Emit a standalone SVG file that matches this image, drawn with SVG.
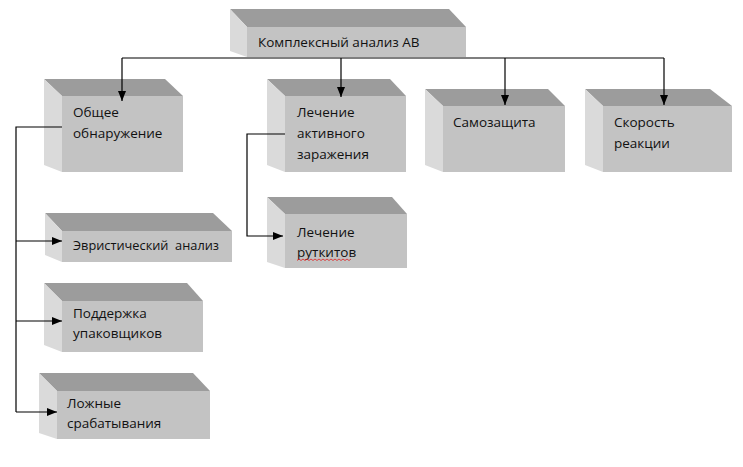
<svg xmlns="http://www.w3.org/2000/svg" width="743" height="467" viewBox="0 0 743 467">
<style>
.top{fill:#9c9c9c}
.front{fill:#c3c3c3}
.side{fill:#dadada}
.t{font-family:"Open Sans","Liberation Sans",sans-serif;font-size:13.5px;fill:#111}
.c{fill:none;stroke:#000;stroke-width:1.2}
</style>
<defs>
<marker id="ah" markerUnits="userSpaceOnUse" markerWidth="10" markerHeight="8" refX="10" refY="4" orient="auto">
<path d="M0,0 L10,4 L0,8 z" fill="#000"/>
</marker>
</defs>
<rect width="743" height="467" fill="#fff"/>

<g id="n-root">
<polygon class="top" points="230,9 449,9 466,27 247,27"/>
<polygon class="side" points="230,9 247,27 247,57 230,51"/>
<rect class="front" x="247" y="27" width="219" height="30"/>
<text class="t" x="258" y="47">Комплексный анализ АВ</text>
</g>

<g id="n-general">
<polygon class="top" points="44,79 165,79 183,96 62,96"/>
<polygon class="side" points="44,79 62,96 62,172 44,165"/>
<rect class="front" x="62" y="96" width="121" height="76"/>
<text class="t" x="73" y="117">Общее</text>
<text class="t" x="73" y="138">обнаружение</text>
</g>

<g id="n-active">
<polygon class="top" points="267,79 390,79 406,96 285,96"/>
<polygon class="side" points="267,79 285,96 285,172 267,165"/>
<rect class="front" x="285" y="96" width="121" height="76"/>
<text class="t" x="297" y="117">Лечение</text>
<text class="t" x="297" y="138">активного</text>
<text class="t" x="297" y="159">заражения</text>
</g>

<g id="n-selfprot">
<polygon class="top" points="425,89 548,89 565,106 443,106"/>
<polygon class="side" points="425,89 443,106 443,172 425,165"/>
<rect class="front" x="443" y="106" width="122" height="66"/>
<text class="t" x="453" y="127">Самозащита</text>
</g>

<g id="n-speed">
<polygon class="top" points="585,89 710,89 732,106 603,106"/>
<polygon class="side" points="585,89 603,106 603,172 585,165"/>
<rect class="front" x="603" y="106" width="129" height="66"/>
<text class="t" x="614" y="127">Скорость</text>
<text class="t" x="614" y="148">реакции</text>
</g>

<g id="n-rootkits">
<polygon class="top" points="267,197 392,197 407,214 285,214"/>
<polygon class="side" points="267,197 285,214 285,268 267,262"/>
<rect class="front" x="285" y="214" width="122" height="54"/>
<text class="t" x="297" y="237">Лечение</text>
<text class="t" x="297" y="257">руткитов</text>
<path d="M297,260.5 l2,-1.5 l2,1.5 l2,-1.5 l2,1.5 l2,-1.5 l2,1.5 l2,-1.5 l2,1.5 l2,-1.5 l2,1.5 l2,-1.5 l2,1.5 l2,-1.5 l2,1.5 l2,-1.5 l2,1.5 l2,-1.5 l2,1.5 l2,-1.5 l2,1.5 l2,-1.5 l2,1.5 l2,-1.5 l2,1.5 l2,-1.5 l2,1.5 l2,-1.5" fill="none" stroke="#e02020" stroke-width="0.8"/>
</g>

<g id="n-heur">
<polygon class="top" points="45,213 213,213 232,231 62,231"/>
<polygon class="side" points="45,213 62,231 62,262 45,255"/>
<rect class="front" x="62" y="231" width="170" height="31"/>
<text class="t" x="73" y="250" xml:space="preserve" style="white-space:pre" textLength="146" lengthAdjust="spacingAndGlyphs">Эвристический  анализ</text>
</g>

<g id="n-packers">
<polygon class="top" points="44,283 187,283 203,301 62,301"/>
<polygon class="side" points="44,283 62,301 62,352 44,345"/>
<rect class="front" x="62" y="301" width="141" height="51"/>
<text class="t" x="73" y="318">Поддержка</text>
<text class="t" x="73" y="338">упаковщиков</text>
</g>

<g id="n-false">
<polygon class="top" points="39,373 193,373 210,391 57,391"/>
<polygon class="side" points="39,373 57,391 57,439 39,433"/>
<rect class="front" x="57" y="391" width="153" height="48"/>
<text class="t" x="67" y="408">Ложные</text>
<text class="t" x="67" y="428">срабатывания</text>
</g>

<g id="connectors">
<line class="c" x1="122" y1="58" x2="664" y2="58"/>
<line class="c" x1="122" y1="58" x2="122" y2="101" marker-end="url(#ah)"/>
<line class="c" x1="341" y1="58" x2="341" y2="97" marker-end="url(#ah)"/>
<line class="c" x1="505" y1="58" x2="505" y2="105" marker-end="url(#ah)"/>
<line class="c" x1="664" y1="58" x2="664" y2="105" marker-end="url(#ah)"/>
<polyline class="c" points="62,127 16,127 16,412"/>
<line class="c" x1="16" y1="241" x2="62" y2="241" marker-end="url(#ah)"/>
<line class="c" x1="16" y1="321" x2="62" y2="321" marker-end="url(#ah)"/>
<line class="c" x1="16" y1="412" x2="57" y2="412" marker-end="url(#ah)"/>
<polyline class="c" points="285,134 247,134 247,236 283,236" marker-end="url(#ah)"/>
</g>
</svg>
